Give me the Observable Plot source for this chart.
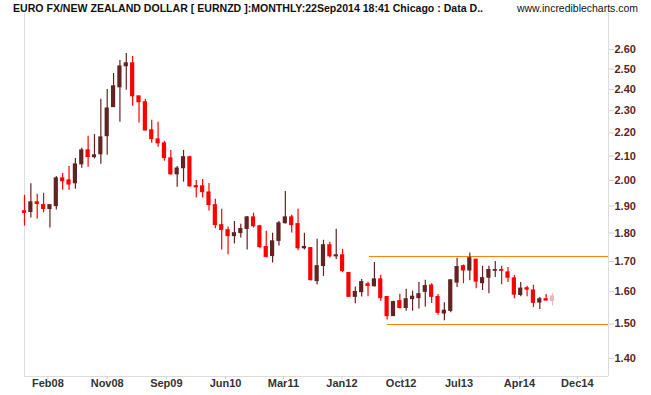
<!DOCTYPE html>
<html><head><meta charset="utf-8">
<script src="https://cdn.jsdelivr.net/npm/d3@7"></script>
<script src="https://cdn.jsdelivr.net/npm/@observablehq/plot@0.6"></script>
<style>
body{margin:0;background:#fff;}
#wrap{position:relative;width:651px;height:395px;overflow:hidden;background:#fff;}
#title{position:absolute;left:13px;top:2px;font:bold 11px "Liberation Sans",Arial,sans-serif;color:#111;white-space:nowrap;transform-origin:0 0;}
#site{position:absolute;left:517px;top:2px;font:11px "Liberation Sans",Arial,sans-serif;color:#111;white-space:nowrap;transform-origin:0 0;}
g[aria-label="x-axis tick"] path, g[aria-label="y-axis tick"] path{stroke:#cfcfcf;}
g[aria-label="x-axis tick label"] text{fill:#333;}
g[aria-label="y-axis tick label"] text{fill:#5c1f1f;}
</style></head><body>
<div id="wrap"><div id="chart"></div>
<div id="title">EURO FX/NEW ZEALAND DOLLAR [ EURNZD ]:MONTHLY:22Sep2014 18:41 Chicago : Data D..</div>
<div id="site">www.incrediblecharts.com</div></div>
<script>
// Monthly candles, Oct 2007 .. Sep 2014 (index 0..83)
const opens = [1.880,1.878,1.914,1.903,1.889,1.900,2.008,2.000,1.989,2.066,2.124,2.096,2.108,2.186,2.317,2.411,2.515,2.529,2.367,2.339,2.211,2.171,2.154,2.090,2.025,2.050,2.095,1.977,1.976,1.952,1.903,1.828,1.810,1.789,1.800,1.815,1.857,1.824,1.750,1.719,1.772,1.836,1.857,1.832,1.746,1.746,1.635,1.685,1.756,1.718,1.721,1.661,1.584,1.599,1.624,1.618,1.640,1.583,1.524,1.570,1.549,1.577,1.580,1.600,1.620,1.583,1.532,1.540,1.630,1.684,1.670,1.706,1.628,1.646,1.669,1.671,1.663,1.643,1.590,1.611,1.604,1.566,1.576,1.571];
const highs = [1.941,1.987,1.945,1.949,1.903,2.016,2.028,2.057,2.090,2.133,2.185,2.193,2.353,2.400,2.478,2.544,2.580,2.564,2.367,2.353,2.256,2.247,2.163,2.124,2.057,2.124,2.099,2.000,2.004,1.988,1.926,1.888,1.822,1.842,1.832,1.861,1.873,1.828,1.806,1.799,1.842,1.956,1.865,1.888,1.799,1.748,1.778,1.774,1.767,1.814,1.742,1.662,1.615,1.640,1.631,1.697,1.654,1.583,1.570,1.592,1.608,1.602,1.631,1.637,1.626,1.591,1.565,1.637,1.711,1.688,1.729,1.706,1.684,1.684,1.700,1.684,1.680,1.653,1.630,1.618,1.621,1.582,1.591,1.595];
const lows = [1.825,1.855,1.851,1.874,1.818,1.885,1.961,1.961,1.965,2.050,2.054,2.088,2.066,2.104,2.317,2.248,2.396,2.321,2.244,2.208,2.155,2.138,2.079,2.021,1.973,1.993,1.973,1.931,1.931,1.881,1.815,1.740,1.723,1.761,1.782,1.740,1.818,1.744,1.712,1.695,1.754,1.833,1.800,1.737,1.740,1.635,1.622,1.650,1.712,1.707,1.662,1.583,1.562,1.583,1.584,1.615,1.570,1.512,1.524,1.546,1.539,1.539,1.546,1.552,1.563,1.526,1.510,1.534,1.614,1.626,1.636,1.610,1.604,1.594,1.646,1.623,1.630,1.578,1.584,1.584,1.550,1.544,1.572,1.555];
const closes = [1.874,1.914,1.908,1.889,1.903,2.008,1.997,1.984,2.065,2.124,2.096,2.103,2.180,2.310,2.415,2.513,2.529,2.368,2.340,2.211,2.173,2.155,2.092,2.025,2.048,2.095,1.977,1.973,1.954,1.904,1.829,1.811,1.789,1.799,1.814,1.857,1.825,1.750,1.716,1.770,1.835,1.857,1.829,1.746,1.750,1.638,1.684,1.756,1.718,1.721,1.668,1.584,1.599,1.631,1.619,1.640,1.580,1.524,1.567,1.549,1.576,1.584,1.592,1.618,1.584,1.534,1.540,1.637,1.681,1.670,1.711,1.633,1.644,1.671,1.671,1.669,1.646,1.591,1.610,1.607,1.565,1.576,1.572,1.585];
const liveIndex = 83; // current (incomplete) month

const yTicks = [1.40,1.50,1.60,1.70,1.80,1.90,2.00,2.10,2.20,2.30,2.40,2.50,2.60];
const xTickPos = [3.68,13.0,22.3,31.6,40.7,49.9,59.2,68.3,77.8,86.9];
const xTickLabels = ["Feb08","Nov08","Sep09","Jun10","Mar11","Jan12","Oct12","Jul13","Apr14","Dec14"];

const channelLevels = [1.717, 1.498];
const channelStarts = [54.2, 57.0];

const xMax = 91.8;
const yDomain = [1.35, 2.795];

const candles = opens.map((o, i) => ({
  i, open: o, high: highs[i], low: lows[i], close: closes[i],
  kind: i === liveIndex ? "live" : (closes[i] >= o ? "up" : "down")
}));
const channel = channelLevels.map((v, k) => ({level: v, start: channelStarts[k], end: xMax}));
const labelByPos = new Map(xTickPos.map((p, k) => [p, xTickLabels[k]]));

const chart = Plot.plot({
  width: 651, height: 395,
  marginLeft: 24, marginRight: 43, marginTop: 13, marginBottom: 19,
  style: {fontFamily: "'Liberation Sans', Arial, sans-serif", fontSize: "11px", fontWeight: "bold", background: "white", overflow: "visible"},
  x: {domain: [0, xMax], axis: null},
  y: {type: "log", domain: yDomain, axis: null},
  color: {domain: ["up", "down", "live"], range: ["#642323", "#ff0000", "#e8b9b9"]},
  marks: [
    Plot.ruleX([0, xMax], {stroke: "#dcdcdc", shapeRendering: "crispEdges"}),
    Plot.ruleY([yDomain[0]], {stroke: "#dcdcdc", shapeRendering: "crispEdges"}),
    Plot.axisX({anchor: "bottom", ticks: xTickPos, tickFormat: d => labelByPos.get(d), tickSize: 3, tickPadding: 0, label: null, fontWeight: "bold"}),
    Plot.axisY({anchor: "right", ticks: yTicks, tickFormat: d => d.toFixed(2), tickSize: 5, tickPadding: 1, label: null, fontWeight: "bold"}),
    Plot.ruleY(channel, {y: "level", x1: "start", x2: "end", stroke: "#ff8000", strokeWidth: 1.2, shapeRendering: "crispEdges"}),
    Plot.ruleX(candles, {x: "i", y1: "low", y2: "high", stroke: "kind", strokeWidth: 1.2}),
    Plot.rect(candles, {x1: d => d.i - 0.33, x2: d => d.i + 0.33, y1: "open", y2: "close", fill: "kind", insetTop: -0.6, insetBottom: -0.6})
  ]
});
document.getElementById("chart").appendChild(chart);

// fit header texts to the reference widths
function fit(id, w) {
  const el = document.getElementById(id);
  const cw = el.getBoundingClientRect().width;
  if (cw > 0) el.style.transform = `scaleX(${w / cw})`;
}
fit("title", 470);
fit("site", 121);
</script>
</body></html>
